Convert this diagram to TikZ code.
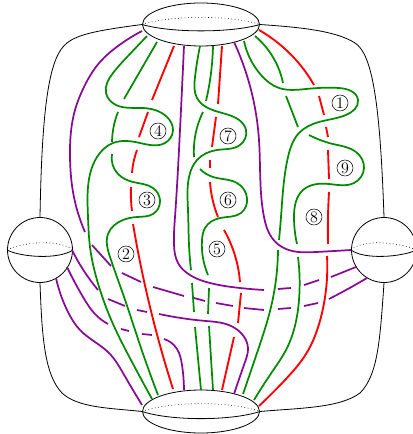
\documentclass[tikz,border=0pt]{standalone}
\usepackage{xcolor}
\usepackage{tikz}
\usetikzlibrary{shapes.geometric,hobby}
\definecolor{strandgreen}{HTML}{008A00}
\definecolor{strandred}{HTML}{FF0000}
\definecolor{strandpurple}{HTML}{860A96}
\begin{document}
\begin{tikzpicture}[x=0.75pt,y=-0.75pt,
  disk/.style={draw=black,line width=0.6pt,ellipse,inner sep=0pt,minimum width=87.75pt,minimum height=32.25pt},
  ball/.style={draw=black,line width=0.6pt,circle,inner sep=0pt,minimum size=48.75pt},
  num/.style={draw=black,line width=0.4pt,circle,inner sep=0pt,minimum size=12pt,font=\large},
  wall/.style={draw=black,line width=0.6pt},
  seam/.style={draw=black,line width=0.5pt,dotted},
  grn/.style={draw=strandgreen,line width=1.3pt,use Hobby shortcut},
  rd/.style={draw=strandred,line width=1.4pt,use Hobby shortcut},
  pur/.style={draw=strandpurple,line width=1.3pt,use Hobby shortcut}]
\useasboundingbox (0,0) rectangle (412,434);
% boundary pieces
\node[disk] (topdisk) at (201,24.5) {};
\node[disk] (botdisk) at (201,411.5) {};
\node[ball] (leftball) at (40,250) {};
\node[ball] (rightball) at (384,250) {};
\draw[wall] (topdisk.west) .. controls (171,33) and (231,33) .. (topdisk.east);
\draw[seam] (topdisk.west) .. controls (171,15) and (231,15) .. (topdisk.east);
\draw[wall] (botdisk.west) .. controls (171,421) and (231,421) .. (botdisk.east);
\draw[seam] (botdisk.west) .. controls (171,401) and (231,401) .. (botdisk.east);
\draw[wall] (leftball.west) .. controls (20,257) and (58,260) .. (leftball.east);
\draw[seam] (leftball.west) .. controls (20,243) and (58,238) .. (leftball.east);
\draw[wall] (rightball.west) .. controls (364,260) and (402,257) .. (416.5,250);
\draw[seam] (rightball.west) .. controls (364,238) and (402,243) .. (416.5,250);
\draw[wall] (topdisk.west) .. controls (100,30) and (78,34) .. (67,43) .. controls (50,56) and (42,100) .. (leftball.north);
\draw[wall] (topdisk.east) .. controls (295,27) and (335,30) .. (355,43) .. controls (372,54) and (380,100) .. (rightball.north);
\draw[wall] (leftball.south) .. controls (42,340) and (45,375) .. (62,393) .. controls (78,408) and (110,408) .. (botdisk.west);
\draw[wall] (rightball.south) .. controls (380,340) and (378,375) .. (360,393) .. controls (340,408) and (300,408) .. (botdisk.east);
% purple strands
\draw[pur] (142,31) .. (118,46) .. (100,62) .. (84,87) .. (75,110) .. (70,157) .. (73,192) .. (85,232);
\draw[pur] (92,245) -- (111,266);
\draw[pur] (122,273) -- (141,282);
\draw[pur] (153,287) -- (184,296);
\draw[pur] (194,298) -- (205,301);
\draw[pur] (216,303) -- (233,306);
\draw[pur] (244,308) -- (264,310);
\draw[pur] (278,309) -- (291,308);
\draw[pur] (304,306) -- (318,303);
\draw[pur] (329,299) .. (346,290) .. (367,278);
\draw[pur] (72,250) .. (84,271) .. (98,290);
\draw[pur] (108,299) -- (125,306);
\draw[pur] (137,310) -- (147,312);
\draw[pur] (159,314) .. (206,321) .. (226,324) .. (240,332) .. (248,348) .. (245,362) .. (234,394);
\draw[pur] (67,267) .. (83,297) .. (95,314) .. (108,324);
\draw[pur] (121,329) -- (129,331);
\draw[pur] (142,334) -- (152,335);
\draw[pur] (164,339) .. (177,349) .. (182,365) .. (184,390);
\draw[pur] (56,278) .. (68,312) .. (80,330) .. (110,354) .. (123,373) .. (142,405);
\draw[pur] (184,46) .. (180,130) .. (175,217) .. (174,245) .. (178,263) .. (187,273) .. (210,283) .. (240,288) .. (264,290);
\draw[pur] (278,289) -- (291,288);
\draw[pur] (304,285) -- (319,280);
\draw[pur] (331,277) -- (356,267);
\draw[pur] (234,42) .. (254,103) .. (259,140) .. (264,217) .. (272,238) .. (286,249) .. (316,252) .. (351,250);
% red strands
\draw[rd] (174,46) -- (152,100);
\draw[rd] (148,112) -- (139,137);
\draw[rd] (137,150) .. (134,160) .. (132,173);
\draw[rd] (131,187) .. (131,200) .. (132,211);
\draw[rd] (133,224) .. (150,307) .. (173,389);
\draw[rd] (222,46) -- (218,104);
\draw[rd] (216,117) -- (212,147);
\draw[rd] (210,160) -- (210,168);
\draw[rd] (210,182) .. (212,197) .. (218,217);
\draw[rd] (224,230) .. (236,259) .. (240,282);
\draw[rd] (241,293) -- (238,323);
\draw[rd] (234,337) -- (222,390);
\draw[rd] (259,30) .. (296,60) .. (314,85);
\draw[rd] (319,96) -- (324,115);
\draw[rd] (326,127) -- (328,137);
\draw[rd] (328,150) -- (329,179);
\draw[rd] (329,192) .. (328,217) .. (328,244);
\draw[rd] (327,256) .. (321,317) .. (306,354) .. (285,380) .. (259,406);
% green strands
\draw[grn] (147,36) .. (128,56) .. (113,73) .. (106,93) .. (116,105) .. (143,108) .. (167,117) .. (173,130) .. (165,143) .. (140,143) .. (113,143) .. (97,157) .. (88,187) .. (88,217) .. (90,247) .. (97,280) .. (113,324) .. (132,362) .. (152,399);
\draw[grn] (157,42) -- (124,99);
\draw[grn] (118,112) .. (114,125) .. (112,142);
\draw[grn] (112,154) .. (118,174) .. (133,182) .. (153,188) .. (160,200) .. (153,214) .. (137,217) .. (123,220) .. (108,234) .. (110,257) .. (123,294) .. (140,345) .. (158,395);
\draw[grn] (200,46) .. (195,77) .. (197,98) .. (210,109) .. (229,115) .. (246,130) .. (240,145) .. (217,150) .. (197,160) .. (189,177) .. (188,210) .. (189,245) .. (191,270);
\draw[grn] (192,283) -- (194,312);
\draw[grn] (195,327) -- (201,390);
\draw[grn] (213,46) .. (211,73) .. (206,101);
\draw[grn] (203,112) .. (195,137) .. (194,157);
\draw[grn] (200,169) .. (213,177) .. (237,183) .. (247,198) .. (241,213) .. (220,218) .. (205,228) .. (202,240) .. (208,275);
\draw[grn] (209,288) -- (208,314);
\draw[grn] (209,326) -- (213,390);
\draw[grn] (244,41) .. (261,75) .. (279,88) .. (306,89) .. (339,88) .. (358,100) .. (346,115) .. (319,122) .. (299,133) .. (288,157) .. (281,217) .. (279,240);
\draw[grn] (278,250) .. (271,307) .. (258,350) .. (243,394);
\draw[grn] (255,36) .. (278,67) .. (283,83);
\draw[grn] (286,96) -- (298,127);
\draw[grn] (309,135) .. (333,144) .. (356,152) .. (364,168) .. (354,183) .. (329,184) .. (303,190) .. (294,217) .. (297,244);
\draw[grn] (298,257) .. (299,300) .. (286,350) .. (272,372) .. (254,400);
% twist labels
\node[num] (n1) at (340,103) {1};
\node[num] (n2) at (126,254) {2};
\node[num] (n3) at (147,200) {3};
\node[num] (n4) at (158,131) {4};
\node[num] (n5) at (217,249) {5};
\node[num] (n6) at (228,200) {6};
\node[num] (n7) at (228,136) {7};
\node[num] (n8) at (314,217) {8};
\node[num] (n9) at (345,168) {9};
\end{tikzpicture}
\end{document}
